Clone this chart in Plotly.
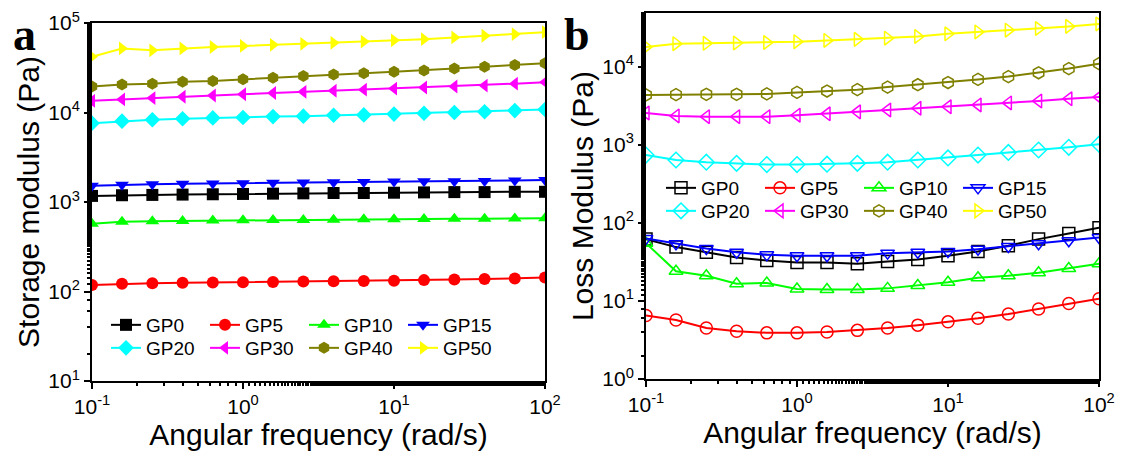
import plotly.graph_objects as go

# ---------------- data ----------------
freq = [0.1, 0.158, 0.251, 0.398, 0.631, 1.0, 1.58, 2.51, 3.98, 6.31,
        10.0, 15.8, 25.1, 39.8, 63.1, 100.0]
names = ["GP0", "GP5", "GP10", "GP15", "GP20", "GP30", "GP40", "GP50"]

# Storage modulus (Pa), panel a
g1_GP0 = [1170, 1190, 1200, 1210, 1220, 1230, 1240, 1250, 1260, 1260, 1270, 1280, 1290, 1290, 1300, 1300]
g1_GP5 = [118, 122, 124, 125, 126, 127, 128, 129, 130, 131, 132, 134, 136, 138, 140, 143]
g1_GP10 = [570, 600, 610, 615, 620, 625, 630, 630, 635, 640, 640, 645, 650, 650, 655, 660]
g1_GP15 = [1520, 1560, 1580, 1600, 1610, 1620, 1640, 1650, 1660, 1670, 1690, 1700, 1710, 1720, 1740, 1760]
g1_GP20 = [7600, 8000, 8300, 8500, 8700, 8800, 9000, 9100, 9300, 9400, 9600, 9800, 10000, 10200, 10500, 10800]
g1_GP30 = [13500, 14000, 14500, 15000, 15500, 16000, 16500, 17000, 17500, 18000, 18500, 19000, 19500, 20000, 21000, 21800]
g1_GP40 = [19500, 20500, 21000, 22000, 22500, 23500, 24500, 25500, 26500, 27500, 28500, 29500, 31000, 32500, 34000, 35500]
g1_GP50 = [42000, 52000, 49500, 52000, 54000, 55500, 57000, 58500, 60000, 62000, 64000, 66000, 69000, 72000, 75000, 79000]

# Loss modulus (Pa), panel b
g2_GP0 = [62, 49, 42, 36, 33, 31, 31, 30, 32, 34, 38, 43, 51, 62, 73, 87]
g2_GP5 = [6.5, 5.7, 4.5, 4.1, 3.9, 3.9, 4.0, 4.2, 4.5, 4.9, 5.4, 6.0, 6.8, 7.9, 9.3, 10.7]
g2_GP10 = [55, 24, 21, 16.6, 17, 14.2, 14.0, 14.0, 14.5, 15.8, 17.4, 19.8, 21, 23, 26, 30]
g2_GP15 = [63, 54, 47, 42, 39, 38, 38, 38, 41, 42, 43, 46, 50, 54, 59, 65]
g2_GP20 = [740, 640, 600, 580, 560, 560, 565, 580, 600, 640, 680, 740, 800, 860, 930, 1020]
g2_GP30 = [2560, 2350, 2300, 2300, 2300, 2400, 2500, 2650, 2800, 2950, 3080, 3250, 3450, 3650, 3900, 4100]
g2_GP40 = [4360, 4400, 4450, 4450, 4500, 4700, 4900, 5100, 5500, 5900, 6300, 6900, 7500, 8400, 9500, 11000]
g2_GP50 = [18000, 19800, 20000, 20200, 20500, 21000, 21800, 22500, 23300, 24500, 26500, 28000, 29500, 31000, 33000, 35500]

storage = [g1_GP0, g1_GP5, g1_GP10, g1_GP15, g1_GP20, g1_GP30, g1_GP40, g1_GP50]
loss = [g2_GP0, g2_GP5, g2_GP10, g2_GP15, g2_GP20, g2_GP30, g2_GP40, g2_GP50]

colors = ["#000000", "#FF0000", "#00FF00", "#0000FF", "#00FFFF", "#FF00FF", "#808000", "#FFFF00"]
symbols = ["square", "circle", "triangle-up", "triangle-down", "diamond",
           "triangle-left", "hexagon", "triangle-right"]

x_tickvals = [0.1, 1, 10, 100]
x_ticktext = ["10<sup>-1</sup>", "10<sup>0</sup>", "10<sup>1</sup>", "10<sup>2</sup>"]
ya_tickvals = [10, 100, 1000, 10000, 100000]
ya_ticktext = ["10<sup>1</sup>", "10<sup>2</sup>", "10<sup>3</sup>", "10<sup>4</sup>", "10<sup>5</sup>"]
yb_tickvals = [1, 10, 100, 1000, 10000]
yb_ticktext = ["10<sup>0</sup>", "10<sup>1</sup>", "10<sup>2</sup>", "10<sup>3</sup>", "10<sup>4</sup>"]

FONT = "Liberation Sans, Arial, sans-serif"
W, H = 1126, 454
OFF = 8  # page body margin of the browser

fig = go.Figure()

for i, nm in enumerate(names):
    fig.add_trace(go.Scatter(
        x=freq, y=storage[i], name=nm, mode="lines+markers",
        line=dict(color=colors[i], width=2),
        marker=dict(symbol=symbols[i], size=12, color=colors[i],
                    line=dict(width=0, color=colors[i])),
        xaxis="x", yaxis="y",
        legend="legend" if i < 4 else "legend2",
    ))
for i, nm in enumerate(names):
    fig.add_trace(go.Scatter(
        x=freq, y=loss[i], name=nm, mode="lines+markers",
        line=dict(color=colors[i], width=2),
        marker=dict(symbol=symbols[i] + "-open", size=12, color=colors[i],
                    line=dict(width=1.5, color=colors[i])),
        xaxis="x2", yaxis="y2",
        legend="legend3" if i < 4 else "legend4",
    ))


def xaxis(domain, anchor):
    return dict(
        type="log", range=[-1, 2], domain=domain, anchor=anchor,
        tickvals=x_tickvals, ticktext=x_ticktext,
        ticks="outside", ticklen=6, tickwidth=2, tickcolor="black",
        minor=dict(ticks="outside", ticklen=3, tickwidth=1.5, tickcolor="black", showgrid=False),
        showline=True, linewidth=2, linecolor="black", mirror=True,
        showgrid=False, zeroline=False, automargin=False,
        tickfont=dict(family=FONT, size=21, color="black"),
        title=dict(text="Angular frequency (rad/s)", standoff=0,
                   font=dict(family=FONT, size=30, color="black")),
    )


def yaxis(domain, anchor, rng, tv, tt, title):
    return dict(
        type="log", range=rng, domain=domain, anchor=anchor,
        tickvals=tv, ticktext=tt,
        ticks="outside", ticklen=6, tickwidth=2, tickcolor="black",
        minor=dict(ticks="outside", ticklen=3, tickwidth=1.5, tickcolor="black", showgrid=False),
        showline=True, linewidth=2, linecolor="black", mirror=True,
        showgrid=False, zeroline=False, automargin=False,
        tickfont=dict(family=FONT, size=21, color="black"),
        title=dict(text=title, standoff=0,
                   font=dict(family=FONT, size=30, color="black")),
    )


def px_x(p):
    return (p - OFF) / W


def px_y(p):
    return 1 - (p - OFF) / H


xa = [px_x(92), px_x(545)]
xb = [px_x(646), px_x(1099)]
ya = [px_y(381), px_y(23)]
yb = [px_y(379), px_y(13)]


def leg(x, y):
    return dict(x=x, y=y, xanchor="left", yanchor="middle", orientation="h",
                bgcolor="rgba(0,0,0,0)", borderwidth=0, entrywidth=54,
                font=dict(family=FONT, size=19, color="black"),
                itemwidth=30, tracegroupgap=0)


fig.update_layout(
    width=W, height=H,
    margin=dict(l=0, r=0, t=0, b=0),
    paper_bgcolor="white", plot_bgcolor="white",
    showlegend=True,
    xaxis=xaxis(xa, "y"),
    yaxis=yaxis(ya, "x", [1, 5], ya_tickvals, ya_ticktext, "Storage modulus (Pa)"),
    xaxis2=xaxis(xb, "y2"),
    yaxis2=yaxis(yb, "x2", [0, 4.69], yb_tickvals, yb_ticktext, "Loss Modulus (Pa)"),
    legend=leg(px_x(106), px_y(325)),
    legend2=leg(px_x(106), px_y(348)),
    legend3=leg(px_x(661), px_y(188)),
    legend4=leg(px_x(661), px_y(211)),
    annotations=[
        dict(text="<b>a</b>", x=px_x(12), y=1, xref="paper", yref="paper",
             xanchor="left", yanchor="top", showarrow=False, borderpad=0,
             font=dict(family="Liberation Serif, Times New Roman, serif", size=46, color="black")),
        dict(text="<b>b</b>", x=px_x(563), y=1, xref="paper", yref="paper",
             xanchor="left", yanchor="top", showarrow=False, borderpad=0,
             font=dict(family="Liberation Serif, Times New Roman, serif", size=46, color="black")),
    ],
)

fig.write_html("out.html")
